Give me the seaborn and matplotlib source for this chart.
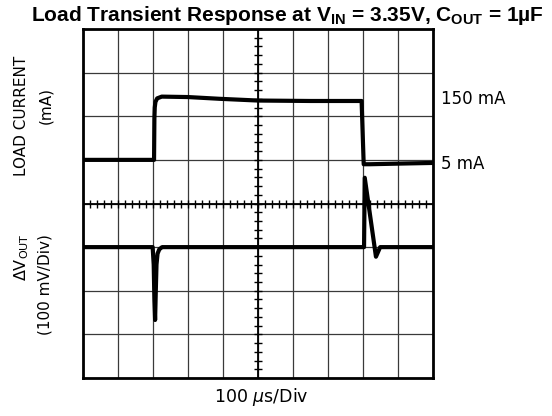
import numpy as np
import matplotlib
matplotlib.use("Agg")
import matplotlib.pyplot as plt
import matplotlib.transforms as mtransforms
import pandas as pd
import seaborn as sns

# load current trace (time in us, current in mA)
t_load = [0, 200, 203, 204, 205, 207, 212, 225, 300, 390, 500, 650, 796, 802, 820, 906, 1000]
i_load = [5, 5, 5, 100, 125, 138, 146, 150, 149, 145, 141, 140, 140, -5, -5, -3.5, -2]

# output voltage deviation (time in us, mV)
t_vout = [0, 199, 202, 204, 206, 208, 210, 213, 218, 226, 803, 805, 837, 849, 1000]
v_vout = [0, 0, -40, -120, -167, -100, -40, -15, -5, 0, 0, 159, -22, 0, 0]

level_labels = ["150 mA", "5 mA"]
level_pos = [145, -5]

df_i = pd.DataFrame({"t": t_load, "i": i_load})
df_v = pd.DataFrame({"t": t_vout, "v": v_vout})

sns.set_style("white")
plt.rcParams["font.family"] = ["DejaVu Sans"]
plt.rcParams["text.color"] = "black"
plt.rcParams["mathtext.fontset"] = "custom"
plt.rcParams["mathtext.rm"] = "DejaVu Sans"
plt.rcParams["mathtext.it"] = "DejaVu Sans:italic"
plt.rcParams["mathtext.bf"] = "Liberation Sans:bold"

fig = plt.figure(figsize=(5.52, 4.16), dpi=100)
ax = fig.add_axes([83 / 552, 38 / 416, 350 / 552, 349 / 416])

# current axis: 100 mA/div, 5 mA sits on div 5
ax.set_xlim(0, 1000)
ax.set_ylim(-495, 305)
ax.set_xticks(np.arange(0, 1001, 100))
ax.set_yticks(np.arange(-495, 306, 100))
ax.grid(True, color="#3a3a3a", lw=0.9)
ax.tick_params(length=0, labelbottom=False, labelleft=False)
for s in ax.spines.values():
    s.set_linewidth(2)
    s.set_color("black")

sns.lineplot(data=df_i, x="t", y="i", ax=ax, color="black", lw=3,
             estimator=None, sort=False)
ax.set_xlabel("")
ax.set_ylabel("")

# voltage axis: 100 mV/div, 0 on div 3
ax2 = ax.twinx()
ax2.set_ylim(-300, 500)
ax2.set_yticks([])
for s in ax2.spines.values():
    s.set_visible(False)

# center graticule with minor ticks
ax2.axhline(100, color="black", lw=1.3, zorder=1)
ax2.axvline(500, color="black", lw=1.3, zorder=1)
hx = np.arange(0, 1001, 20)
ax2.plot(hx, np.full(len(hx), 100), ls="none", marker="|", ms=6, mew=1,
         color="black", zorder=1)
vy = np.arange(-300, 501, 20)
ax2.plot(np.full(len(vy), 500), vy, ls="none", marker="_", ms=6, mew=1,
         color="black", zorder=1)

sns.lineplot(data=df_v, x="t", y="v", ax=ax2, color="black", lw=3,
             estimator=None, sort=False, zorder=3)
ax2.set_ylabel("")
ax2.set_xlabel("")
ax2.set_xlim(0, 1000)

trans = mtransforms.blended_transform_factory(ax.transAxes, ax.transData)
for lab, y in zip(level_labels, level_pos):
    ax.text(1.023, y, lab, transform=trans, fontsize=12, va="center", ha="left")

fig.text(287 / 552, 0.962,
         r"Load Transient Response at V$_{\mathbf{IN}}$ = 3.35V, C$_{\mathbf{OUT}}$ = 1µF",
         fontsize=15, fontweight="bold", family="Liberation Sans",
         ha="center", va="center")

fig.text(21.5 / 552, 1 - 116 / 416, "LOAD CURRENT", rotation=90, fontsize=11,
         ha="center", va="center")
fig.text(46 / 552, 1 - 105 / 416, "(mA)", rotation=90, fontsize=11,
         ha="center", va="center")
fig.text(22 / 552, 1 - 257 / 416, r"ΔV$_{\mathrm{OUT}}$", rotation=90, fontsize=11.5,
         ha="center", va="center")
fig.text(45 / 552, 1 - 285 / 416, "(100 mV/Div)", rotation=90, fontsize=11,
         ha="center", va="center")
fig.text(261 / 552, 1 - 397 / 416, r"100 $\mu$s/Div", fontsize=12.5,
         ha="center", va="center")

fig.savefig("out.png", dpi=100)
